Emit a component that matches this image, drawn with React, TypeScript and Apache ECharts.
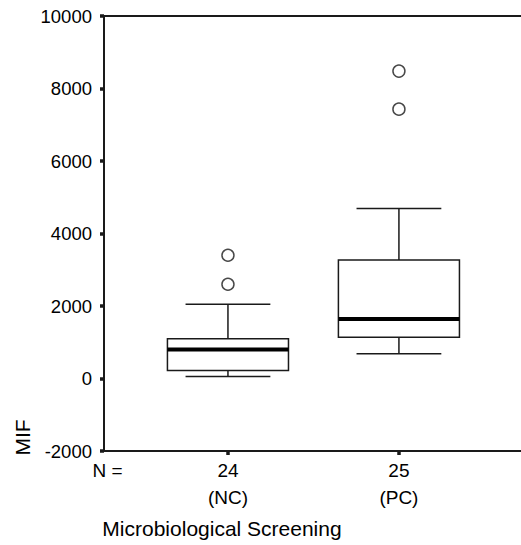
import React, { useEffect, useRef } from "react";
import * as echarts from "echarts";

// ---- data ----
const groupPositions = [1, 2];
const groupN = [24, 25];
const groupCodes = ["NC", "PC"];
const lowerWhisker = [55, 685];
const q1 = [220, 1140];
const median = [800, 1640];
const q3 = [1100, 3270];
const upperWhisker = [2050, 4690];
const outlierGroup = [1, 1, 2, 2];
const outlierValues = [3400, 2600, 8480, 7430];
const yTicks = { min: -2000, max: 10000, interval: 2000 };
const yAxisTitle = "MIF";
const xAxisTitle = "Microbiological Screening";
const nLabel = "N =";

const FONT = "'Liberation Sans', Arial, Helvetica, sans-serif";
const INK = "#1a1a1a";

export default function App() {
  const ref = useRef<HTMLDivElement>(null);

  useEffect(() => {
    if (!ref.current) return;
    const chart = echarts.init(ref.current, undefined, { renderer: "svg" });

    const boxData = groupPositions.map((x, i) => [
      x,
      lowerWhisker[i],
      q1[i],
      median[i],
      q3[i],
      upperWhisker[i],
    ]);
    const outlierData = outlierGroup.map((g, i) => [g, outlierValues[i]]);
    const labelMap: Record<number, string> = {};
    groupPositions.forEach((p, i) => {
      labelMap[p] = `${groupN[i]}\n(${groupCodes[i]})`;
    });

    const xMin = 0.275;
    const xMax = 2.714;

    chart.setOption({
      animation: false,
      backgroundColor: "#ffffff",
      grid: { left: 104, right: 0, top: 16, bottom: 94, containLabel: false },
      xAxis: [
        {
          type: "value",
          min: xMin,
          max: xMax,
          position: "bottom",
          splitLine: { show: false },
          axisLine: { show: true, onZero: false, lineStyle: { color: INK, width: 2 } },
          axisTick: {
            show: true,
            customValues: groupPositions,
            length: 4,
            lineStyle: { color: INK, width: 3.5 },
          },
          axisLabel: {
            show: true,
            customValues: groupPositions,
            formatter: (v: number) => labelMap[Math.round(v)] ?? "",
            fontSize: 19,
            fontFamily: FONT,
            color: "#000",
            lineHeight: 27,
            margin: 6,
          },
        },
        {
          type: "value",
          min: xMin,
          max: xMax,
          position: "top",
          splitLine: { show: false },
          axisLine: { show: true, onZero: false, lineStyle: { color: INK, width: 2 } },
          axisTick: { show: false },
          axisLabel: { show: false },
        },
      ],
      yAxis: {
        type: "value",
        min: yTicks.min,
        max: yTicks.max,
        interval: yTicks.interval,
        splitLine: { show: false },
        axisLine: { show: true, onZero: false, lineStyle: { color: INK, width: 2 } },
        axisTick: { show: true, length: 4, lineStyle: { color: INK, width: 3.5 } },
        axisLabel: {
          fontSize: 18.5,
          fontFamily: FONT,
          color: "#000",
          margin: 12,
          formatter: (v: number) => String(v),
        },
      },
      series: [
        {
          type: "custom",
          xAxisIndex: 0,
          data: boxData,
          encode: { x: 0, y: [1, 2, 3, 4, 5] },
          renderItem: (params: any, api: any) => {
            const x = api.value(0);
            const pLo = api.coord([x, api.value(1)]);
            const pQ1 = api.coord([x, api.value(2)]);
            const pMed = api.coord([x, api.value(3)]);
            const pQ3 = api.coord([x, api.value(4)]);
            const pHi = api.coord([x, api.value(5)]);
            const unit = api.size([1, 0])[0];
            const bh = unit * 0.354;
            const ch = unit * 0.248;
            const cx = pMed[0];
            const lineStyle = { stroke: INK, lineWidth: 1.5, fill: "none" };
            return {
              type: "group",
              children: [
                { type: "line", shape: { x1: cx, y1: pLo[1], x2: cx, y2: pQ1[1] }, style: lineStyle },
                { type: "line", shape: { x1: cx, y1: pQ3[1], x2: cx, y2: pHi[1] }, style: lineStyle },
                { type: "line", shape: { x1: cx - ch, y1: pLo[1], x2: cx + ch, y2: pLo[1] }, style: lineStyle },
                { type: "line", shape: { x1: cx - ch, y1: pHi[1], x2: cx + ch, y2: pHi[1] }, style: lineStyle },
                {
                  type: "rect",
                  shape: { x: cx - bh, y: pQ3[1], width: bh * 2, height: pQ1[1] - pQ3[1] },
                  style: { stroke: INK, lineWidth: 1.5, fill: "#ffffff" },
                },
                {
                  type: "line",
                  shape: { x1: cx - bh, y1: pMed[1], x2: cx + bh, y2: pMed[1] },
                  style: { stroke: "#000", lineWidth: 4 },
                },
              ],
            };
          },
        },
        {
          type: "scatter",
          xAxisIndex: 0,
          data: outlierData,
          symbol: "circle",
          symbolSize: 12,
          itemStyle: { color: "#ffffff", borderColor: INK, borderWidth: 1.5 },
        },
      ],
      graphic: [
        {
          type: "text",
          x: 107.5,
          y: 470,
          style: {
            text: nLabel,
            fontSize: 19,
            fontFamily: FONT,
            fill: "#000",
            align: "center",
            verticalAlign: "middle",
          },
        },
        {
          type: "text",
          x: 222,
          y: 528,
          style: {
            text: xAxisTitle,
            fontSize: 21,
            fontFamily: FONT,
            fill: "#000",
            align: "center",
            verticalAlign: "middle",
          },
        },
        {
          type: "text",
          x: 22.5,
          y: 437.5,
          rotation: Math.PI / 2,
          style: {
            text: yAxisTitle,
            fontSize: 21,
            fontFamily: FONT,
            fill: "#000",
            align: "center",
            verticalAlign: "middle",
          },
        },
      ],
    });

    return () => chart.dispose();
  }, []);

  return (
    <div
      ref={ref}
      style={{ position: "fixed", left: 0, top: 0, width: 521, height: 545, background: "#fff" }}
    />
  );
}
